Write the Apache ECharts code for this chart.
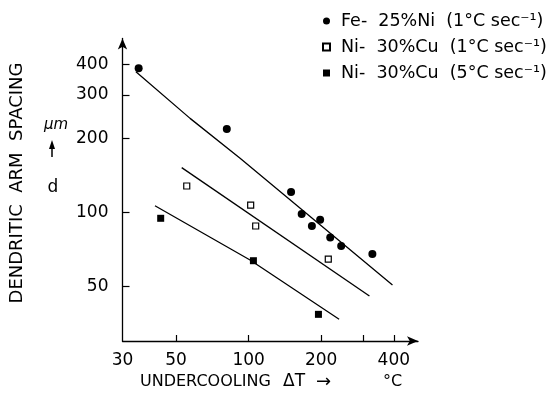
<!DOCTYPE html>
<html><head><meta charset="utf-8">
<script src="https://cdn.jsdelivr.net/npm/echarts@6/dist/echarts.min.js"></script>
<style>html,body{margin:0;padding:0;background:#fff}#c{width:551px;height:394px}</style>
</head><body><div id="c"></div>
<script>
const seriesNames = ['Fe-  25%Ni  (1°C sec⁻¹)', 'Ni-  30%Cu  (1°C sec⁻¹)', 'Ni-  30%Cu  (5°C sec⁻¹)'];
const feNiX = [35.0, 81.2, 150, 166, 183, 198, 218, 242, 326];
const feNiY = [385, 218, 121, 98.5, 88, 93.4, 79, 73, 67.7];
const cu1X = [55.4, 102, 107, 214];
const cu1Y = [128, 107, 88, 64.6];
const cu5X = [43.2, 104.7, 194.8];
const cu5Y = [94.6, 63.6, 38.5];
const feFitX = [34.1, 57.2, 92.2, 395];
const feFitY = [373, 241, 166, 50.7];
const cu1FitX = [52.8, 317];
const cu1FitY = [152, 45.7];
const cu5FitX = [40.9, 101.4, 237.3];
const cu5FitY = [106.4, 64, 36.8];
const xTicks = [50, 100, 200, 300, 400];
const xLabels = [30, 50, 100, 200, 400];
const yTicks = [50, 100, 200, 300, 400];
const yLabels = [50, 100, 200, 300, 400];

const FONT = 'DejaVu Sans';
const zip = (xs, ys) => xs.map((x, i) => [x, ys[i]]);
const chart = echarts.init(document.getElementById('c'), null, {renderer: 'canvas'});

const axisCommon = {
  type: 'log', logBase: 10,
  axisLine: {show: true, symbol: ['none', 'arrow'], symbolSize: [7, 11], lineStyle: {color: '#000', width: 1.3}},
  splitLine: {show: false},
  minorTick: {show: false},
  minorSplitLine: {show: false}
};

const fitLine = (xs, ys) => ({
  type: 'line', data: zip(xs, ys), showSymbol: false, symbol: 'none', silent: true, z: 1,
  lineStyle: {color: '#000', width: 1.3}
});

chart.setOption({
  animation: false,
  backgroundColor: '#fff',
  grid: {left: 122.5, right: 133, top: 38.5, bottom: 53},
  legend: {
    orient: 'vertical', left: 322, top: 12, padding: 0, itemGap: 8,
    itemWidth: 7, itemHeight: 7,
    data: seriesNames,
    textStyle: {fontFamily: FONT, fontSize: 17.5, color: '#000', lineHeight: 18, padding: [0, 0, 0, 6]}
  },
  xAxis: Object.assign({}, axisCommon, {
    min: 30, max: 504,
    axisTick: {show: true, inside: true, length: 6, customValues: xTicks, lineStyle: {color: '#000', width: 1.2}},
    axisLabel: {customValues: xLabels, margin: 11, fontSize: 17, color: '#000', fontFamily: FONT}
  }),
  yAxis: Object.assign({}, axisCommon, {
    min: 30, max: 509,
    axisTick: {show: true, inside: true, length: 7, customValues: yTicks, lineStyle: {color: '#000', width: 1.2}},
    axisLabel: {customValues: yLabels, margin: 14, fontSize: 17, color: '#000', fontFamily: FONT}
  }),
  graphic: [
    {type: 'text', x: 17, y: 183, rotation: Math.PI / 2,
     style: {text: 'DENDRITIC  ARM  SPACING', font: '18px "DejaVu Sans"', fill: '#000', align: 'center', verticalAlign: 'middle'}},
    {type: 'text', x: 56, y: 125, style: {text: 'μm', font: 'italic 15px "DejaVu Sans"', fill: '#000', align: 'center', verticalAlign: 'middle'}},
    {type: 'line', shape: {x1: 52, y1: 157, x2: 52, y2: 146}, style: {stroke: '#000', lineWidth: 1.5}},
    {type: 'polygon', shape: {points: [[49, 149], [55, 149], [52, 140]]}, style: {fill: '#000'}},
    {type: 'text', x: 53, y: 188, style: {text: 'd', font: '17px "DejaVu Sans"', fill: '#000', align: 'center', verticalAlign: 'middle'}},
    {type: 'text', x: 140, y: 382, style: {text: 'UNDERCOOLING', font: '16px "DejaVu Sans"', fill: '#000', align: 'left', verticalAlign: 'middle'}},
    {type: 'text', x: 283, y: 382, style: {text: 'ΔT', font: '17px "DejaVu Sans"', fill: '#000', align: 'left', verticalAlign: 'middle'}},
    {type: 'text', x: 316, y: 382, style: {text: '→', font: '18px "DejaVu Sans"', fill: '#000', align: 'left', verticalAlign: 'middle'}},
    {type: 'text', x: 383, y: 382, style: {text: '°C', font: '16px "DejaVu Sans"', fill: '#000', align: 'left', verticalAlign: 'middle'}}
  ],
  series: [
    {name: seriesNames[0], type: 'scatter', data: zip(feNiX, feNiY), symbol: 'circle', symbolSize: 8, z: 3,
     itemStyle: {color: '#000', opacity: 1}},
    {name: seriesNames[1], type: 'scatter', data: zip(cu1X, cu1Y), symbol: 'rect', symbolSize: 6, z: 3,
     itemStyle: {color: '#fff', borderColor: '#000', borderWidth: 1.2, opacity: 1}},
    {name: seriesNames[2], type: 'scatter', data: zip(cu5X, cu5Y), symbol: 'rect', symbolSize: 7, z: 3,
     itemStyle: {color: '#000', opacity: 1}},
    fitLine(feFitX, feFitY),
    fitLine(cu1FitX, cu1FitY),
    fitLine(cu5FitX, cu5FitY)
  ]
});
</script>
</body></html>
